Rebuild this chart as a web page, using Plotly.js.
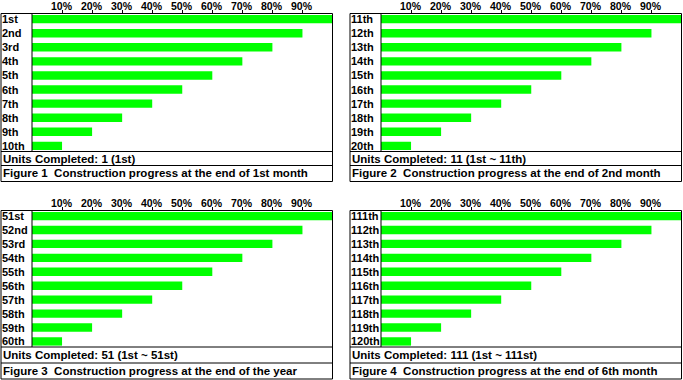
<!DOCTYPE html>
<html>
<head>
<meta charset="utf-8">
<script src="https://cdn.plot.ly/plotly-3.0.1.min.js"></script>
<style>html,body{margin:0;padding:0;background:#fff;}#chart{width:683px;height:380px;}</style>
</head>
<body>
<div id="chart"></div>
<script>
// ---- data ----
const units1 = ['1st','2nd','3rd','4th','5th','6th','7th','8th','9th','10th'];
const units2 = ['11th','12th','13th','14th','15th','16th','17th','18th','19th','20th'];
const units3 = ['51st','52nd','53rd','54th','55th','56th','57th','58th','59th','60th'];
const units4 = ['111th','112th','113th','114th','115th','116th','117th','118th','119th','120th'];
const progress1 = [100,90,80,70,60,50,40,30,20,10];
const progress2 = [100,90,80,70,60,50,40,30,20,10];
const progress3 = [100,90,80,70,60,50,40,30,20,10];
const progress4 = [100,90,80,70,60,50,40,30,20,10];
const tickVals = [10,20,30,40,50,60,70,80,90];
const tickText = ['10%','20%','30%','40%','50%','60%','70%','80%','90%'];
const completedText = ['Units Completed: 1 (1st)','Units Completed: 11 (1st ~ 11th)','Units Completed: 51 (1st ~ 51st)','Units Completed: 111 (1st ~ 111st)'];
const figureText = ['Figure 1\u00a0\u00a0Construction progress at the end of 1st month','Figure 2\u00a0\u00a0Construction progress at the end of 2nd month','Figure 3\u00a0\u00a0Construction progress at the end of the year','Figure 4\u00a0\u00a0Construction progress at the end of 6th month'];

// ---- layout geometry (pixels) ----
const W = 683, H = 380;
const px = x => x / W;
const py = y => 1 - y / H;
const geo = [
  {xl:1,   xd:32,  xr:332.5, top:13.5,  pb:151.5, ub:165.5, fb:181.5},
  {xl:350, xd:381, xr:681.5, top:13.5,  pb:151.5, ub:165.5, fb:181.5},
  {xl:1,   xd:32,  xr:332.5, top:210.5, pb:347,   ub:363,   fb:379},
  {xl:350, xd:381, xr:681.5, top:210.5, pb:347,   ub:363,   fb:379}
];
const cats = [units1, units2, units3, units4];
const vals = [progress1, progress2, progress3, progress4];

const FONT = 'Liberation Sans, Arial, sans-serif';
const TICKFONT = 'Liberation Sans Narrow, Arial Narrow, Liberation Sans, sans-serif';
const traces = [];
const layout = {
  width: W, height: H,
  margin: {l:0, r:0, t:0, b:0, pad:0},
  paper_bgcolor: '#fff', plot_bgcolor: '#fff',
  showlegend: false,
  shapes: [], annotations: [],
  font: {family: FONT, color: '#000'}
};

geo.forEach((g, i) => {
  const n = i === 0 ? '' : String(i + 1);
  traces.push({
    type: 'bar', orientation: 'h',
    x: vals[i], y: cats[i],
    xaxis: 'x' + n, yaxis: 'y' + n,
    marker: {color: '#00ff00', line: {width: 0}},
    width: 0.6, hoverinfo: 'skip'
  });
  layout['xaxis' + n] = {
    domain: [px(g.xd), px(g.xr)], range: [0, 100],
    anchor: 'y' + n, side: 'top',
    tickmode: 'array', tickvals: tickVals, ticktext: tickText,
    ticks: 'outside', ticklen: 3, tickwidth: 1, tickcolor: '#000',
    showticklabels: false,
    showgrid: false, zeroline: false, showline: false, fixedrange: true
  };
  layout['yaxis' + n] = {
    domain: [py(g.pb), py(g.top)],
    anchor: 'x' + n, type: 'category',
    categoryorder: 'array', categoryarray: cats[i],
    range: [9.4, -0.4],
    showticklabels: false, ticks: '', showgrid: false, zeroline: false, showline: false, fixedrange: true
  };
  const ln = {color: '#000', width: 1};
  layout.shapes.push(
    {type:'rect', xref:'paper', yref:'paper', x0:px(g.xl), x1:px(g.xr), y0:py(g.fb), y1:py(g.top), line:ln, fillcolor:'rgba(0,0,0,0)'},
    {type:'line', xref:'paper', yref:'paper', x0:px(g.xd), x1:px(g.xd), y0:py(g.pb), y1:py(g.top), line:ln},
    {type:'line', xref:'paper', yref:'paper', x0:px(g.xl), x1:px(g.xr), y0:py(g.pb), y1:py(g.pb), line:ln},
    {type:'line', xref:'paper', yref:'paper', x0:px(g.xl), x1:px(g.xr), y0:py(g.ub), y1:py(g.ub), line:ln}
  );
  // top tick labels placed on the x axis scale
  tickVals.forEach((v, k) => {
    layout.annotations.push({
      xref:'x' + n, yref:'paper', x: v, y: py(g.top - 7.4),
      text: '<b>' + tickText[k] + '</b>', showarrow: false, xanchor: 'center', yanchor: 'middle',
      borderpad: 0, borderwidth: 0,
      font: {family: TICKFONT, size: 10.5, color: '#000'}
    });
  });
  cats[i].forEach(c => {
    layout.annotations.push({
      xref:'paper', yref:'y' + n, x: px(g.xl - 1), y: c,
      text: '<b>' + c + '</b>', showarrow: false, xanchor: 'left', yanchor: 'middle',
      font: {family: FONT, size: 11, color: '#000'}
    });
  });
  layout.annotations.push({
    xref:'paper', yref:'paper', x: px(g.xl), y: py((g.pb + g.ub) / 2),
    text: '<b>' + completedText[i] + '</b>', showarrow: false, xanchor: 'left', yanchor: 'middle',
    font: {family: FONT, size: 11.5, color: '#000'}
  });
  layout.annotations.push({
    xref:'paper', yref:'paper', x: px(g.xl), y: py((g.ub + g.fb) / 2),
    text: '<b>' + figureText[i] + '</b>', showarrow: false, xanchor: 'left', yanchor: 'middle',
    font: {family: FONT, size: 11.5, color: '#000'}
  });
});

Plotly.newPlot('chart', traces, layout, {staticPlot: true, displayModeBar: false});
</script>
</body>
</html>
